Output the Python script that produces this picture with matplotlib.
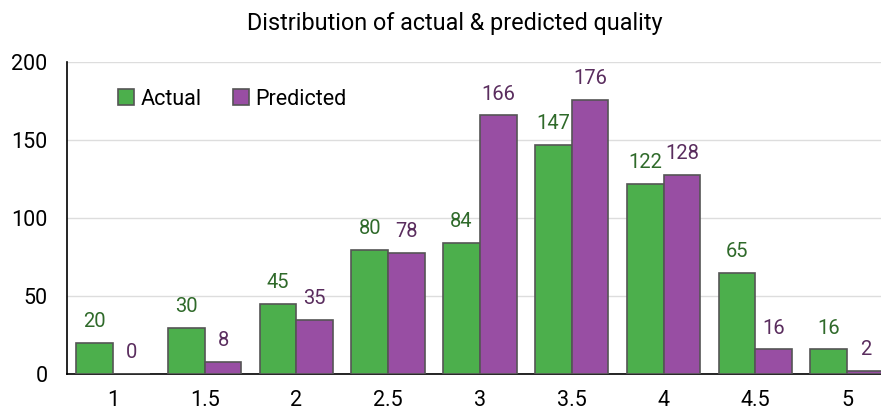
import numpy as np
import matplotlib
matplotlib.use("Agg")
import matplotlib.pyplot as plt

plt.rcParams["font.family"] = ["Roboto", "DejaVu Sans"]

# ---- data ----
categories = ["1", "1.5", "2", "2.5", "3", "3.5", "4", "4.5", "5"]
actual = [20, 30, 45, 80, 84, 147, 122, 65, 16]
predicted = [0, 8, 35, 78, 166, 176, 128, 16, 2]

GREEN = "#4caf4c"
PURPLE = "#984ea3"
GREEN_TXT = "#2f6a2a"
PURPLE_TXT = "#5a2d5e"
EDGE = "#555555"

fig = plt.figure(figsize=(8.81, 4.12), dpi=100)
ax = fig.add_axes([67 / 881, 37.7 / 412, 1 - 67 / 881, 312 / 412])

x = np.arange(len(categories))
w = 0.4
b1 = ax.bar(x - w / 2, actual, w, color=GREEN, edgecolor=EDGE, lw=1.2,
            label="Actual", zorder=3)
b2 = ax.bar(x + w / 2, predicted, w, color=PURPLE, edgecolor=EDGE, lw=1.2,
            label="Predicted", zorder=3)
ax.bar_label(b1, padding=8.5, color=GREEN_TXT, fontsize=14.5)
ax.bar_label(b2, padding=8.5, color=PURPLE_TXT, fontsize=14.5)

ax.set_ylim(0, 200)
ax.set_yticks([0, 50, 100, 150, 200])
ax.set_xlim(-0.5, 8.37)
ax.set_xticks(x)
ax.set_xticklabels(categories)
ax.tick_params(axis="both", length=0, labelsize=15.5, colors="black")
ax.tick_params(axis="x", pad=11)
ax.tick_params(axis="y", pad=14)
ax.grid(axis="y", color="#dddddd", lw=1, zorder=0)
ax.set_axisbelow(True)
for s in ["top", "right"]:
    ax.spines[s].set_visible(False)
ax.spines["left"].set_color("black")
ax.spines["bottom"].set_color("black")
ax.spines["left"].set_linewidth(1.2)
ax.spines["bottom"].set_linewidth(1.2)

ax.legend(loc="upper left", bbox_to_anchor=(0.039, 0.978), ncol=2, frameon=False,
          fontsize=15.5, handlelength=0.75, handleheight=0.75, handletextpad=0.3,
          columnspacing=1.45)

fig.text(454.5 / 881, 0.928, "Distribution of actual & predicted quality",
         ha="center", fontsize=16.8)

fig.savefig("out.png", dpi=100)
